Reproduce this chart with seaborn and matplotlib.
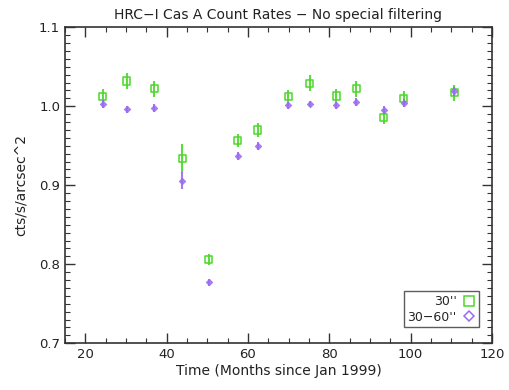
import matplotlib
matplotlib.use("Agg")
import matplotlib.pyplot as plt
from matplotlib.ticker import MultipleLocator
import numpy as np
import pandas as pd
import seaborn as sns

# Data
months = [24.3, 30.2, 37.0, 43.8, 50.4, 57.5, 62.4, 69.9, 75.2, 81.7, 86.6, 93.4, 98.3, 110.7]
rate_30 = [1.012, 1.032, 1.022, 0.934, 0.806, 0.957, 0.970, 1.012, 1.029, 1.013, 1.022, 0.986, 1.010, 1.017]
err_30 = [0.010, 0.010, 0.010, 0.018, 0.007, 0.008, 0.009, 0.009, 0.010, 0.009, 0.010, 0.009, 0.009, 0.010]
rate_30_60 = [1.003, 0.996, 0.998, 0.906, 0.777, 0.937, 0.950, 1.001, 1.003, 1.001, 1.005, 0.995, 1.004, 1.019]
err_30_60 = [0.005, 0.004, 0.005, 0.011, 0.004, 0.005, 0.005, 0.005, 0.004, 0.005, 0.005, 0.005, 0.005, 0.006]

series_labels = ["30''", "30\u221260''"]
colors = ["#4cd82a", "#9a6cf0"]

sns.set_theme(style="ticks")
plt.rcParams["font.family"] = ["DejaVu Sans"]

df = pd.DataFrame({
    "month": months * 2,
    "rate": rate_30 + rate_30_60,
    "err": err_30 + err_30_60,
    "series": [series_labels[0]] * len(months) + [series_labels[1]] * len(months),
})

fig = plt.figure(figsize=(5.1, 3.9), dpi=100)
ax = fig.add_axes([0.1275, 0.12, 0.837, 0.81])

# error bars: green under its open squares, purple crossing its diamonds
for label, color, z in zip(series_labels, colors, [2, 4]):
    sub = df[df["series"] == label]
    ax.errorbar(sub["month"], sub["rate"], yerr=sub["err"], fmt="none",
                ecolor=color, elinewidth=1.5, capsize=0, zorder=z, alpha=0.9)

sub = df[df["series"] == series_labels[0]]
sns.scatterplot(x="month", y="rate", data=sub, marker="s", s=26,
                color=colors[0], facecolor="none", edgecolor=colors[0],
                linewidth=1.1, ax=ax, zorder=3)
sub = df[df["series"] == series_labels[1]]
sns.scatterplot(x="month", y="rate", data=sub, marker="D", s=11,
                color=colors[1], edgecolor=colors[1], linewidth=0.6,
                ax=ax, zorder=3, alpha=0.85)

# legend handles: open markers after the text
h1 = plt.Line2D([], [], ls="none", marker="s", ms=7, mfc="none", mec=colors[0], mew=1.1)
h2 = plt.Line2D([], [], ls="none", marker="D", ms=5, mfc="none", mec=colors[1], mew=1.1)
leg = ax.legend([h1, h2], series_labels, loc="lower right", markerfirst=False,
                fontsize=9, frameon=True, fancybox=False, edgecolor="#333333",
                handlelength=1.0, handletextpad=0.5, borderpad=0.3,
                labelspacing=0.2, bbox_to_anchor=(0.985, 0.03))
leg.get_frame().set_linewidth(1.0)

ax.set_xlim(15, 120)
ax.set_ylim(0.7, 1.1)
ax.xaxis.set_major_locator(MultipleLocator(20))
ax.xaxis.set_minor_locator(MultipleLocator(5))
ax.yaxis.set_major_locator(MultipleLocator(0.1))
ax.yaxis.set_minor_locator(MultipleLocator(0.01))
ax.tick_params(which="both", direction="in", top=True, right=True,
               colors="#333333", labelcolor="#222222", labelsize=9.5)
ax.tick_params(which="major", length=7, width=1)
ax.tick_params(which="minor", length=3.5, width=0.8)
for sp in ax.spines.values():
    sp.set_color("#333333")
    sp.set_linewidth(1.2)

ax.set_xlabel("Time (Months since Jan 1999)", fontsize=10, color="#222222", labelpad=2)
ax.set_ylabel("cts/s/arcsec^2", fontsize=10, color="#222222", labelpad=8)
ax.set_title("HRC\u2212I Cas A Count Rates \u2212 No special filtering",
             fontsize=10, color="#222222", pad=6)

fig.savefig("out.png", dpi=100)
